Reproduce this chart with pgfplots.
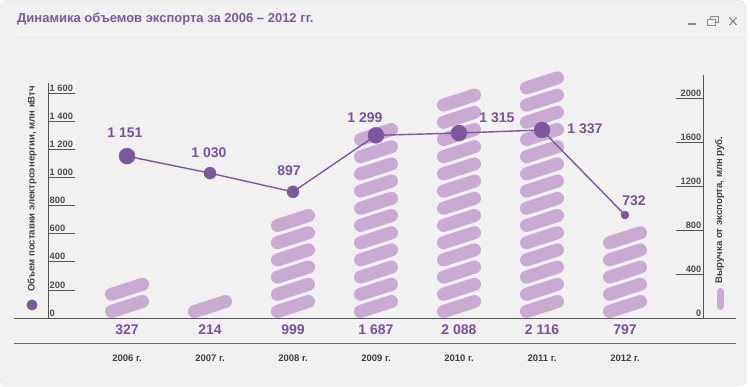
\documentclass[border=0pt]{standalone}
\usepackage{pgfplots}
\usepackage{pgfplotstable}
\pgfplotsset{compat=1.18}
\usepackage{fontspec}
\setmainfont{Liberation Sans}
\definecolor{bgc}{HTML}{F1F1F1}
\definecolor{pillc}{HTML}{C9AAD3}
\definecolor{linec}{HTML}{7E57A0}
\definecolor{valc}{HTML}{7B519F}
\definecolor{titlec}{HTML}{7E57A2}
\definecolor{axc}{HTML}{555555}
\definecolor{tickc}{HTML}{4D4D4D}
\definecolor{yearc}{HTML}{3F3F3F}
\definecolor{labc}{HTML}{444444}
\definecolor{iconc}{HTML}{8A8A8A}
\pgfdeclareplotmark{empty}{}

% revenue from export, mln rub (right axis)
\pgfplotstableread{
x v
0 327
1 214
2 999
3 1687
4 2088
5 2116
6 797
}\revtable

% electricity supply volume, mln kWh (left axis); r = marker radius, dx/dy = label offset
\pgfplotstableread{
x y r dx dy
0 1151 8 -2 23
1 1030 6 -1 20
2 897 6 -4 21
3 1299 8 -11 18
4 1315 8 38 15
5 1337 8 43 1
6 732 4 9 14
}\voltable

\begin{document}
\begin{tikzpicture}
\useasboundingbox (0,0) rectangle (750pt,387pt);
\fill[white] (0,0) rectangle (750pt,387pt);
\filldraw[fill=bgc, draw=black!14, rounded corners=7pt] (0.5pt,1pt) rectangle (746pt,386.5pt);
\draw[black!9, line width=0.8pt] (13pt,350pt) -- (745pt,350pt);

\node[anchor=base west, text=titlec, font=\bfseries\fontsize{13}{15}\selectfont, inner sep=0pt] at (17pt,364pt) {Динамика объемов экспорта за 2006 – 2012 гг.};

% window icons
\draw[iconc, line width=1.3pt] (688pt,363pt) -- (696pt,363pt);
\draw[iconc, line width=1pt] (707.5pt,361.5pt) rectangle (715pt,367pt);
\draw[iconc, line width=1pt] (710.5pt,367pt) -- (710.5pt,370pt) -- (718.5pt,370pt) -- (718.5pt,364.5pt) -- (715pt,364.5pt);
\draw[iconc, line width=1.2pt] (729.5pt,362pt) -- (736.5pt,369.5pt) (729.5pt,369.5pt) -- (736.5pt,362pt);

% right axis: revenue as stacks of pills
\begin{axis}[
  at={(48pt,69pt)}, anchor=south west,
  scale only axis, width=655pt, height=243pt,
  xmin=-0.952, xmax=6.94, ymin=0, ymax=2209.09,
  axis y line*=right, axis x line*=bottom,
  x axis line style={draw=none},
  y axis line style={-, draw=axc, line width=0.8pt},
  xtick={0,...,6},
  xticklabels={2006 г.,2007 г.,2008 г.,2009 г.,2010 г.,2011 г.,2012 г.},
  xtick style={draw=none},
  xticklabel style={anchor=center, yshift=-40pt, font=\bfseries\fontsize{9.5}{11}\selectfont, text=yearc},
  ytick={0,400,...,2000}, tick align=inside, major tick length=27pt,
  ytick style={draw=axc, line width=0.6pt},
  yticklabel style={anchor=south east, inner sep=1.5pt, font=\bfseries\fontsize{9.3}{10}\selectfont, text=tickc, /pgf/number format/1000 sep={}},
  /pgf/number format/assume math mode=true,
  /pgf/number format/1000 sep={\ },
  clip=false,
]
\addplot[scatter, only marks, mark=empty,
  visualization depends on={\thisrow{v} \as \rawval},
  scatter/@pre marker code/.code={%
    \pgfmathsetmacro\hb{-\rawval*0.11}%
    \pgfmathtruncatemacro\np{round(\rawval/156)}%
    \foreach \k in {1,...,\np}{%
      \pgfmathsetmacro\yl{\hb+6.5+17.2*(\k-1)}%
      \pgfmathsetmacro\yr{\yl+10}%
      \draw[pillc, line width=13pt, line cap=round] (-15.5pt,\yl pt) -- (15.5pt,\yr pt);%
    }%
    \node[font=\bfseries\fontsize{14}{16}\selectfont, text=valc, inner sep=0pt] at (0pt,\hb pt-12pt) {\pgfmathprintnumber{\rawval}};%
  },
  scatter/@post marker code/.code={},
] table[x=x, y=v] {\revtable};
\end{axis}

% left axis: supply volume line
\begin{axis}[
  at={(48pt,69pt)}, anchor=south west,
  scale only axis, width=655pt, height=235pt,
  xmin=-0.952, xmax=6.94, ymin=0, ymax=1671.1,
  axis y line*=left, axis x line*=bottom,
  x axis line style={draw=none}, xtick=\empty,
  y axis line style={-, draw=axc, line width=0.8pt},
  ytick={0,200,...,1600}, tick align=inside, major tick length=27pt,
  ytick style={draw=axc, line width=0.6pt},
  yticklabel style={anchor=south west, inner sep=1.5pt, font=\bfseries\fontsize{9.3}{10}\selectfont, text=tickc},
  /pgf/number format/assume math mode=true,
  /pgf/number format/1000 sep={\ },
  clip=false,
]
\addplot[linec, line width=1.4pt, mark=none,
  visualization depends on={\thisrow{dx} \as \ldx},
  visualization depends on={\thisrow{dy} \as \ldy},
  nodes near coords,
  every node near coord/.append style={anchor=center, xshift=\ldx pt, yshift=\ldy pt, font=\bfseries\fontsize{14}{16}\selectfont, text=valc, inner sep=0pt},
] table[x=x, y=y] {\voltable};
\addplot[only marks, scatter, mark=*,
  scatter/use mapped color={draw=linec, fill=linec},
  visualization depends on={\thisrow{r} \as \mr},
  scatter/@pre marker code/.append style={/tikz/mark size=\mr pt},
] table[x=x, y=y] {\voltable};
\end{axis}

\draw[axc, line width=0.8pt] (14pt,69pt) -- (736pt,69pt);
\draw[axc!85, line width=0.8pt] (14pt,44pt) -- (736pt,44pt);

% legend markers and axis titles
\fill[linec] (32pt,82pt) circle (5.5pt);
\node[rotate=90, text=labc, font=\bfseries\fontsize{9.6}{11}\selectfont, inner sep=0pt] at (32pt,198pt) {Объем поставки электроэнергии, млн кВтч};
\draw[pillc, line width=7pt, line cap=round] (720pt,80.5pt) -- (720pt,95.5pt);
\node[rotate=90, text=labc, font=\bfseries\fontsize{9.6}{11}\selectfont, inner sep=0pt] at (719.5pt,177pt) {Выручка от экспорта, млн руб.};
\end{tikzpicture}
\end{document}
